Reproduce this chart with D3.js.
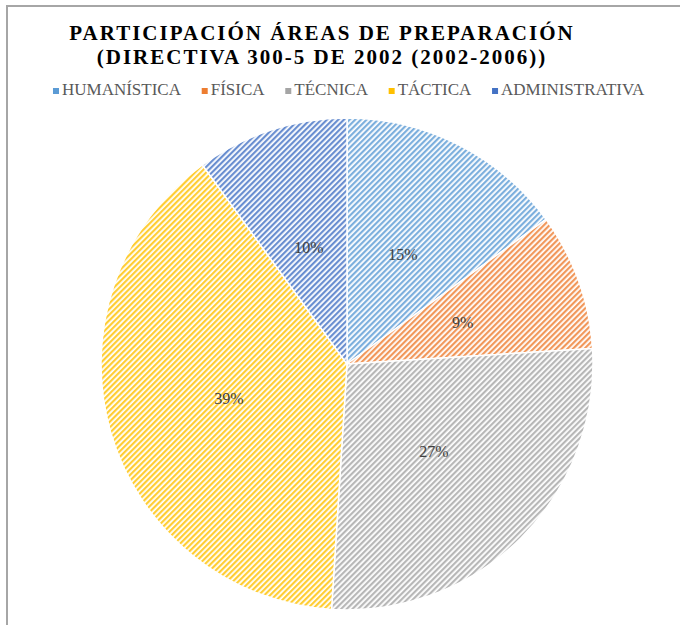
<!DOCTYPE html>
<html>
<head>
<meta charset="utf-8">
<script src="https://cdn.jsdelivr.net/npm/d3@7"></script>
<style>
  body { margin: 0; background: #fff; }
  text { font-family: "Liberation Serif", "DejaVu Serif", serif; }
</style>
</head>
<body>
<script>
// chart data
const categories = ["HUMANÍSTICA", "FÍSICA", "TÉCNICA", "TÁCTICA", "ADMINISTRATIVA"];
const values = [15, 9, 27, 39, 10];
const colors = ["#5b9bd5", "#ed7d31", "#a5a5a5", "#ffc000", "#4472c4"];
const titleLines = ["PARTICIPACIÓN ÁREAS DE PREPARACIÓN", "(DIRECTIVA 300-5 DE 2002 (2002-2006))"];

const width = 680, height = 625;
const cx = 347, cy = 364, radius = 246;

const svg = d3.select("body").append("svg")
    .attr("width", width)
    .attr("height", height);

svg.append("rect").attr("width", width).attr("height", height).attr("fill", "#fff");

// frame (only top and left edges visible)
svg.append("line").attr("x1", 6).attr("x2", width).attr("y1", 6).attr("y2", 6)
    .attr("stroke", "#a6a6a6").attr("stroke-width", 2);
svg.append("line").attr("x1", 7).attr("x2", 7).attr("y1", 6).attr("y2", height)
    .attr("stroke", "#a6a6a6").attr("stroke-width", 2);

// stripe patterns
const defs = svg.append("defs");
colors.forEach((c, i) => {
    const p = defs.append("pattern")
        .attr("id", "stripe" + i)
        .attr("patternUnits", "userSpaceOnUse")
        .attr("width", 4).attr("height", 4)
        .attr("patternTransform", "rotate(45)");
    p.append("rect").attr("width", 4).attr("height", 4).attr("fill", "#fff");
    p.append("rect").attr("width", 2.2).attr("height", 4).attr("fill", c).attr("opacity", 0.8);
});

// title
svg.selectAll(".title")
    .data(titleLines)
    .enter().append("text")
    .attr("class", "title")
    .attr("x", 322)
    .attr("y", (d, i) => 40 + i * 24)
    .attr("text-anchor", "middle")
    .attr("font-weight", "bold")
    .attr("font-size", 21)
    .attr("letter-spacing", 2)
    .attr("fill", "#000")
    .text(d => d);

// legend
const legend = svg.append("g");
const items = legend.selectAll("g")
    .data(categories)
    .enter().append("g");
items.append("rect")
    .attr("width", 6).attr("height", 6)
    .attr("y", -7)
    .attr("fill", (d, i) => colors[i]);
items.append("text")
    .attr("x", 9)
    .attr("font-size", 17)
    .attr("fill", "#595959")
    .text(d => d);
let lx = 0;
items.each(function () {
    const w = this.getBBox().width;
    d3.select(this).attr("transform", `translate(${lx},0)`);
    lx += w + 20;
});
const legendW = lx - 20;
legend.attr("transform", `translate(${349 - legendW / 2},95)`);

// pie
const pie = d3.pie().sort(null).value(d => d);
const arcs = pie(values);
const arc = d3.arc().innerRadius(0).outerRadius(radius);
const labelArc = d3.arc().innerRadius(radius * 0.5).outerRadius(radius * 0.5);

const g = svg.append("g").attr("transform", `translate(${cx},${cy})`);
g.selectAll("path")
    .data(arcs)
    .enter().append("path")
    .attr("d", arc)
    .attr("fill", (d, i) => `url(#stripe${i})`)
    .attr("stroke", "#fff")
    .attr("stroke-width", 1.5);

g.selectAll(".lbl")
    .data(arcs)
    .enter().append("text")
    .attr("class", "lbl")
    .attr("transform", d => `translate(${labelArc.centroid(d)})`)
    .attr("text-anchor", "middle")
    .attr("dy", "0.35em")
    .attr("font-size", 16)
    .attr("fill", "#404040")
    .text(d => d.data + "%");
</script>
</body>
</html>
